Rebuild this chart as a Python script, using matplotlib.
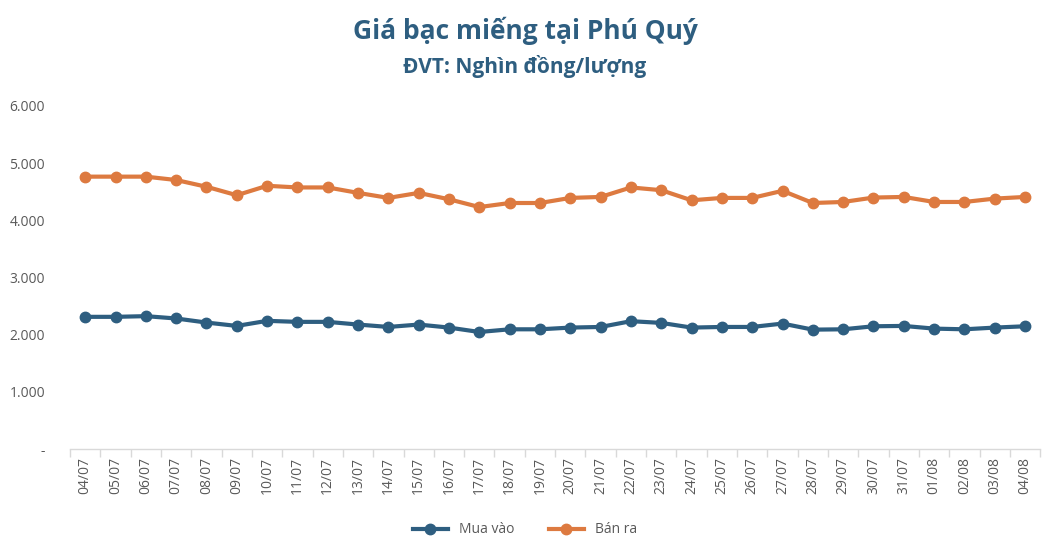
import matplotlib
matplotlib.use("Agg")
import matplotlib.pyplot as plt
from matplotlib.ticker import FixedLocator, FuncFormatter
import numpy as np

# ngày
dates = ["04/07", "05/07", "06/07", "07/07", "08/07", "09/07", "10/07", "11/07",
         "12/07", "13/07", "14/07", "15/07", "16/07", "17/07", "18/07", "19/07",
         "20/07", "21/07", "22/07", "23/07", "24/07", "25/07", "26/07", "27/07",
         "28/07", "29/07", "30/07", "31/07", "01/08", "02/08", "03/08", "04/08"]

# giá mua vào (nghìn đồng/lượng)
mua_vao = [2312, 2312, 2324, 2283, 2212, 2153, 2242, 2224, 2224, 2177, 2135, 2177,
           2124, 2047, 2094, 2094, 2124, 2135, 2236, 2206, 2124, 2135, 2135, 2194,
           2088, 2094, 2147, 2153, 2106, 2094, 2124, 2147]

# giá bán ra
ban_ra = [4764, 4764, 4764, 4705, 4587, 4439, 4604, 4575, 4575, 4480, 4392, 4480,
          4368, 4232, 4303, 4303, 4392, 4409, 4575, 4527, 4350, 4392, 4392, 4516,
          4303, 4321, 4398, 4409, 4321, 4321, 4380, 4409]

c_blue = "#2E5E80"
c_orange = "#DD7A40"
c_grey = "#595959"
fonts = ["Liberation Sans Narrow", "Open Sans", "DejaVu Sans"]
plt.rcParams['font.family'] = fonts

fig = plt.figure(figsize=(10.5, 5.56), dpi=100)
ax = fig.add_axes([0.0667, 0.1924, 0.924, 0.617])

x = np.arange(len(dates))
ax.plot(x, mua_vao, color=c_blue, lw=3, marker="o", ms=7.5, label="Mua vào")
ax.plot(x, ban_ra, color=c_orange, lw=3, marker="o", ms=7.5, label="Bán ra")

ax.set_xlim(-0.5, len(dates) - 0.5)
ax.set_ylim(0, 6000)
ax.set_yticks(range(0, 6001, 1000))
ax.yaxis.set_major_formatter(FuncFormatter(
    lambda v, p: "-" if v == 0 else f"{int(v):,}".replace(",", ".")))
ax.set_xticks(x)
ax.set_xticklabels(dates, rotation=90)
ax.xaxis.set_minor_locator(FixedLocator(np.arange(-0.5, len(dates), 1)))
ax.tick_params(axis="x", which="major", length=0, pad=6, labelsize=10, labelcolor=c_grey)
ax.tick_params(axis="x", which="minor", length=6, color="#D9D9D9", width=1)
ax.tick_params(axis="y", length=0, pad=18, labelsize=10, labelcolor=c_grey)

for s in ["top", "right", "left"]:
    ax.spines[s].set_visible(False)
ax.spines["bottom"].set_color("#D9D9D9")
ax.spines["bottom"].set_linewidth(1)

fig.text(0.5, 0.945, "Giá bạc miếng tại Phú Quý", ha="center", va="center",
         fontsize=19, fontweight="bold", color=c_blue)
fig.text(0.5, 0.88, "ĐVT: Nghìn đồng/lượng", ha="center", va="center",
         fontsize=15, fontweight="bold", color=c_blue)

leg = fig.legend(loc="center", bbox_to_anchor=(0.5, 0.047), ncol=2, frameon=False,
                 fontsize=10, handlelength=2.5, columnspacing=2.5)
for t in leg.get_texts():
    t.set_color(c_grey)

fig.savefig("out.png", dpi=100)
